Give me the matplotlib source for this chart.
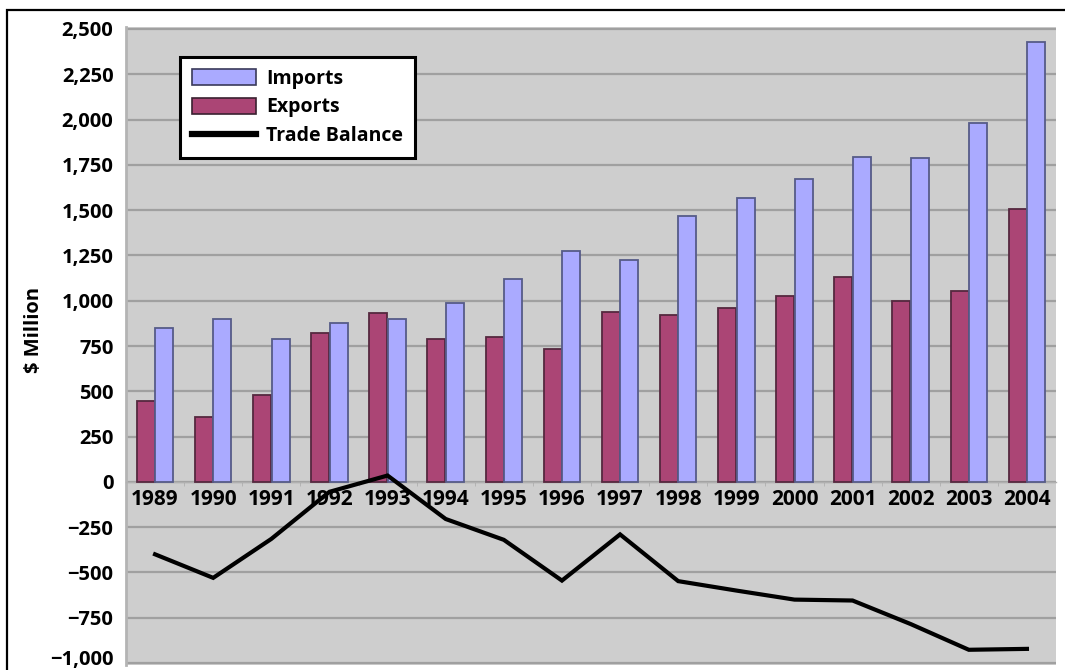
import matplotlib
matplotlib.use("Agg")
import matplotlib.pyplot as plt
from matplotlib.patches import Rectangle, Patch
from matplotlib.lines import Line2D
from matplotlib.ticker import FuncFormatter
from matplotlib.transforms import ScaledTranslation
import numpy as np

years = [str(y) for y in range(1989, 2005)]
exports = [447, 360, 478, 821, 934, 788, 802, 732, 938, 922, 962, 1027, 1131, 999, 1054, 1507]
imports = [848, 898, 788, 879, 901, 990, 1120, 1275, 1225, 1468, 1569, 1672, 1792, 1787, 1980, 2430]
balance = [-400, -530, -315, -55, 35, -205, -320, -545, -290, -548, -600, -650, -655, -785, -927, -922]

plt.rcParams['font.family'] = ['Open Sans', 'DejaVu Sans']
plt.rcParams['font.weight'] = 'bold'

fig = plt.figure(figsize=(10.65, 6.70), dpi=100)
W, H = 1065, 670
ax = fig.add_axes([126 / W, 1 - 665 / H, (1056 - 126) / W, (665 - 27) / H])
ax.set_facecolor('#cecece')

x = np.arange(len(years))
bw = 0.31
ax.bar(x - 0.16, exports, bw, color='#ab4575', edgecolor='#55283f', linewidth=1.3, zorder=3)
ax.bar(x + 0.16, imports, bw, color='#aaaaff', edgecolor='#565b88', linewidth=1.3, zorder=3)
ax.plot(x, balance, color='black', linewidth=3.0, solid_joinstyle='miter', zorder=4)

ax.set_xlim(-0.5, len(years) - 0.5)
ax.set_ylim(-1011, 2511)
ax.set_yticks(np.arange(-1000, 2501, 250))
ax.yaxis.set_major_formatter(FuncFormatter(lambda v, p: f"{int(v):,}".replace('-', '\u2212')))
ax.grid(axis='y', color='#a0a0a0', linewidth=1.6, zorder=1)

for side in ['top', 'right']:
    ax.spines[side].set_visible(False)
ax.spines['left'].set_color('#b4b4b4')
ax.spines['left'].set_linewidth(2)
ax.spines['bottom'].set_position(('data', 0))
ax.spines['bottom'].set_color('#b0b0b0')
ax.spines['bottom'].set_linewidth(1)

ax.set_xticks(x)
ax.set_xticklabels(years)
ax.set_xticks(x[:-1] + 0.5, minor=True)
ax.tick_params(axis='x', which='major', length=0, pad=5, labelsize=15)
ax.tick_params(axis='x', which='minor', length=3, color='#b0b0b0')
ax.tick_params(axis='y', length=0, pad=9, labelsize=14.5)

# nudge the lowest label up so it stays inside the figure
low = ax.yaxis.get_major_ticks()[0].label1
low.set_transform(low.get_transform() + ScaledTranslation(0, 4 / 72, fig.dpi_scale_trans))

ax.set_ylabel('$ Million', fontsize=14.5, fontweight='bold')
ax.yaxis.set_label_coords(-0.088, 0.525)

handles = [Patch(facecolor='#aaaaff', edgecolor='#3a3a5a', linewidth=1.2),
           Patch(facecolor='#ab4575', edgecolor='#3a2030', linewidth=1.2),
           Line2D([0], [0], color='black', linewidth=4.5)]
leg = ax.legend(handles, ['Imports', 'Exports', 'Trade Balance'],
                loc='upper left', bbox_to_anchor=(0.058, 0.953), borderaxespad=0,
                fontsize=14, frameon=True, fancybox=False, framealpha=1,
                edgecolor='black', handlelength=3.3, handleheight=0.9,
                handletextpad=0.55, labelspacing=0.45, borderpad=0.6)
leg.get_frame().set_linewidth(2.2)
leg.set_zorder(6)

# outer frame around the figure
fig.patches.append(Rectangle((7 / W, -0.05), 1.1, 1 - 10 / H + 0.05,
                             transform=fig.transFigure, fill=False,
                             edgecolor='black', linewidth=1.6))

fig.savefig('out.png', dpi=100, facecolor='white')
